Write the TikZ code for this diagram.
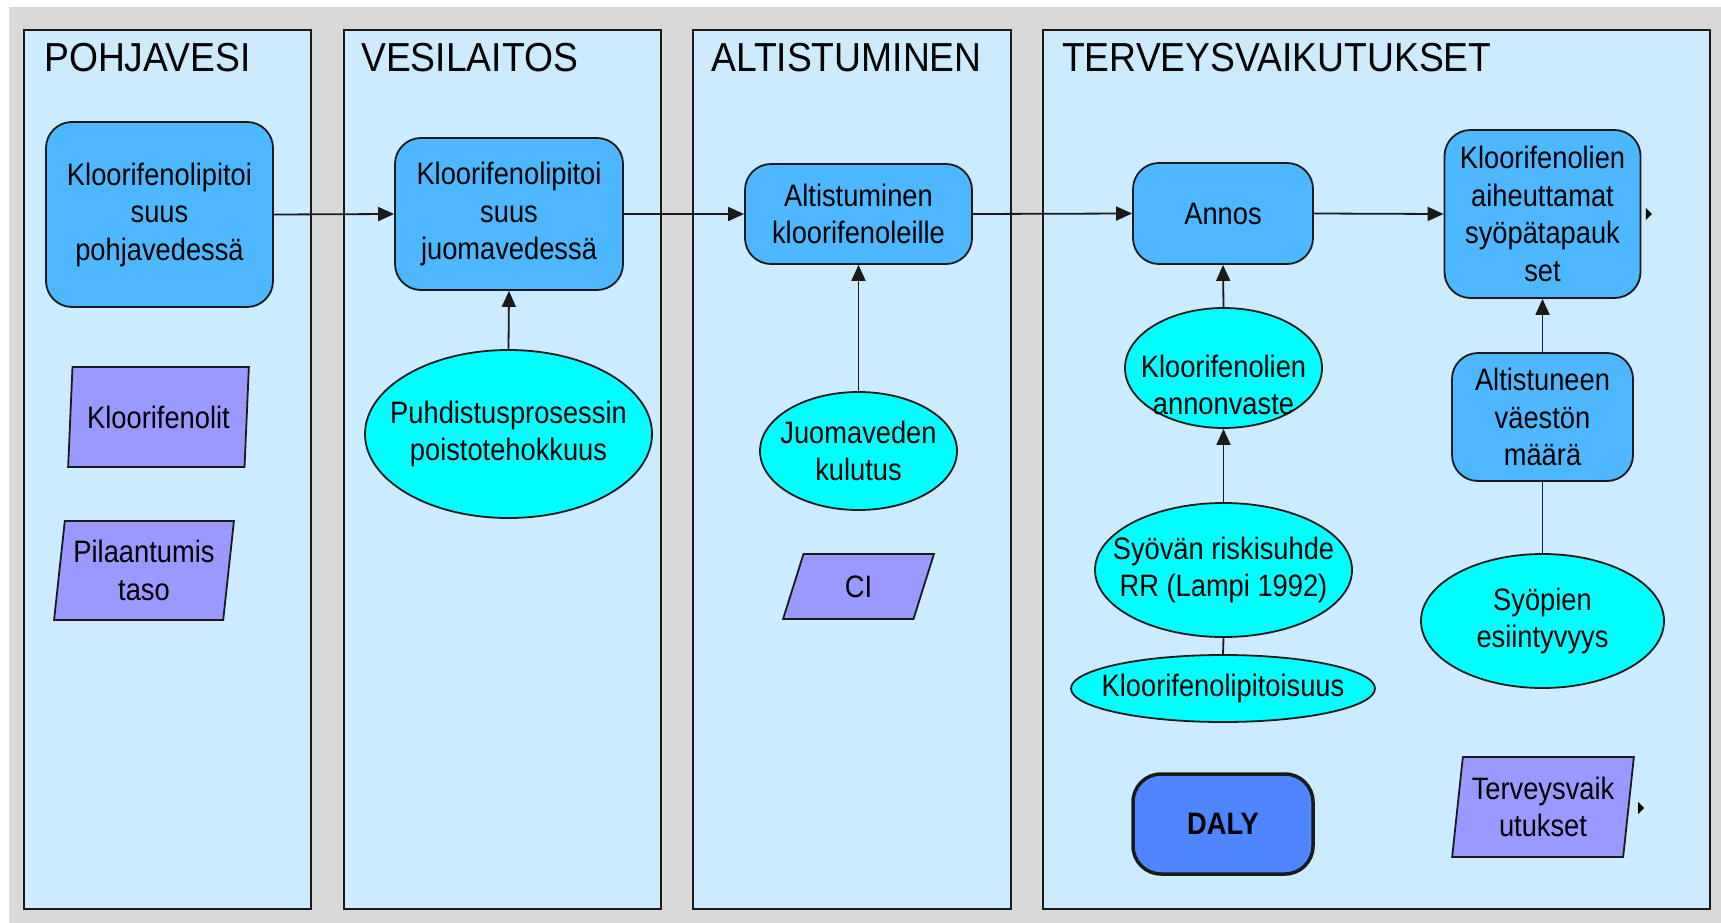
\documentclass[tikz,border=0pt]{standalone}
\usepackage{fontspec}
\setmainfont{Liberation Sans}[FakeStretch=0.88]
\newfontfamily\titlefamily{Liberation Sans}[FakeStretch=0.92]
\usetikzlibrary{shapes.geometric,arrows.meta}

\definecolor{bggray}{HTML}{D9D9D9}
\definecolor{panelblue}{HTML}{CCEBFF}
\definecolor{procblue}{HTML}{4DB8FF}
\definecolor{dalyblue}{HTML}{4D86FF}
\definecolor{ovalcyan}{HTML}{00FFFF}
\definecolor{paraviolet}{HTML}{9999FF}
\definecolor{edgedark}{HTML}{1A1A1A}

\begin{document}
\begin{tikzpicture}[x=1pt,y=-1pt,
  bodyfont/.style={font=\fontsize{31}{37.5}\selectfont},
  panel/.style={draw=edgedark, line width=2pt, fill=panelblue, anchor=north west, inner sep=0pt},
  paneltitle/.style={anchor=base west, inner sep=0pt, font=\titlefamily\fontsize{40.5}{44}\selectfont},
  proc/.style={bodyfont, draw=edgedark, line width=1.8pt, fill=procblue, rounded corners=26pt, align=center, inner sep=0pt},
  daly/.style={bodyfont, draw=edgedark, line width=3.5pt, fill=dalyblue, rounded corners=28pt, align=center, inner sep=0pt, font=\fontsize{31}{37.5}\selectfont\bfseries},
  oval/.style={bodyfont, ellipse, draw=edgedark, line width=1.8pt, fill=ovalcyan, align=center, inner sep=-60pt},
  ovaltext/.style={bodyfont, align=center, inner sep=0pt},
  para/.style={bodyfont, trapezium, trapezium left angle=81, trapezium right angle=99, trapezium stretches=true, draw=edgedark, line width=1.8pt, fill=paraviolet, align=center, inner sep=0pt},
  link/.style={line width=1.8pt, draw=edgedark},
  arr/.style={link, -{Triangle[length=16pt,width=14pt]}},
  marker/.style={fill=black},
]
\useasboundingbox (0,0) rectangle (1721,923);
\fill[bggray] (9,7) rectangle (1721,923);

% panels
\node[panel, minimum width=287pt, minimum height=879pt] (p1) at (23,29) {};
\node[panel, minimum width=317pt, minimum height=879pt] (p2) at (343,29) {};
\node[panel, minimum width=318pt, minimum height=879pt] (p3) at (692,29) {};
\node[panel, minimum width=667pt, minimum height=879pt] (p4) at (1042,29) {};

\node[paneltitle] (t1) at (44,72) {POHJAVESI};
\node[paneltitle] (t2) at (361,72) {VESILAITOS};
\node[paneltitle] (t3) at (711,72) {ALTISTUMINEN};
\node[paneltitle] (t4) at (1062,72) {TERVEYSVAIKUTUKSET};

% process nodes
\node[proc, minimum width=227pt, minimum height=185pt] (n1) at (159.5,214.5) {Kloorifenolipitoi\\suus\\pohjavedessä};
\node[proc, minimum width=228pt, minimum height=152pt] (n2) at (509,214) {Kloorifenolipitoi\\suus\\juomavedessä};
\node[proc, minimum width=227pt, minimum height=100pt] (n3) at (858.5,214) {Altistuminen\\kloorifenoleille};
\node[proc, minimum width=180pt, minimum height=101pt] (n4) at (1223,213.5) {Annos};
\node[proc, minimum width=196pt, minimum height=168pt] (n5) at (1542.5,214) {Kloorifenolien\\aiheuttamat\\syöpätapauk\\set};
\node[proc, minimum width=181pt, minimum height=128pt] (n6) at (1542.5,417) {Altistuneen\\väestön\\määrä};
\node[daly, minimum width=180pt, minimum height=100pt] (n7) at (1223,824) {DALY};

% ovals
\node[oval, minimum width=287pt, minimum height=168pt] (e8) at (508.5,434) {Puhdistusprosessin\\poistotehokkuus};
\node[oval, minimum width=197pt, minimum height=118pt] (e9) at (858.5,451) {Juomaveden\\kulutus};
\node[oval, minimum width=197pt, minimum height=120pt] (e10) at (1223.5,368) {};
\node[ovaltext] (e10t) at ([shift={(0,17)}]e10.center) {Kloorifenolien\\annonvaste};
\node[oval, minimum width=257pt, minimum height=134pt] (e11) at (1223.5,570) {Syövän riskisuhde\\RR (Lampi 1992)};
\node[oval, minimum width=304pt, minimum height=67pt] (e12) at (1223,688.5) {Kloorifenolipitoisuus};
\node[oval, minimum width=243pt, minimum height=134pt] (e13) at (1542.5,621) {Syöpien\\esiintyvyys};

% parallelograms
\node[para, minimum width=181pt, minimum height=100pt] (q1) at (158.5,417) {Kloorifenolit};
\node[para, minimum width=180pt, minimum height=99pt] (q2) at (144,570.5) {Pilaantumis\\taso};
\node[para, trapezium left angle=77, trapezium right angle=103, minimum width=151pt, minimum height=65pt] (q3) at (858.5,586.5) {CI};
\node[para, minimum width=182pt, minimum height=100pt] (q4) at (1543,807) {Terveysvaik\\utukset};

% connectors
\draw[arr] (n1.east) -- (n2.west);
\draw[arr] (n2.east) -- (n3.west);
\draw[arr] (n3.east) -- (n4.west);
\draw[arr] (n4.east) -- (n5.west);
\draw[arr] (e8.north) -- (n2.south);
\draw[arr] (e9.north) -- (n3.south);
\draw[arr] (e10.north) -- (n4.south);
\draw[arr] (e11.north) -- (e10.south);
\draw[link] (e12.north) -- (e11.south);
\draw[link] (e13.north) -- (n6.south);
\draw[arr] (n6.north) -- (n5.south);

% small output markers
\fill[marker] ([shift={(4.5,-6)}]n5.east) -- ++(6,6) -- ++(-6,6) -- cycle;
\fill[marker] ([shift={(95,-5)}]q4.center) -- ++(6,6) -- ++(-6,6) -- cycle;
\end{tikzpicture}
\end{document}
